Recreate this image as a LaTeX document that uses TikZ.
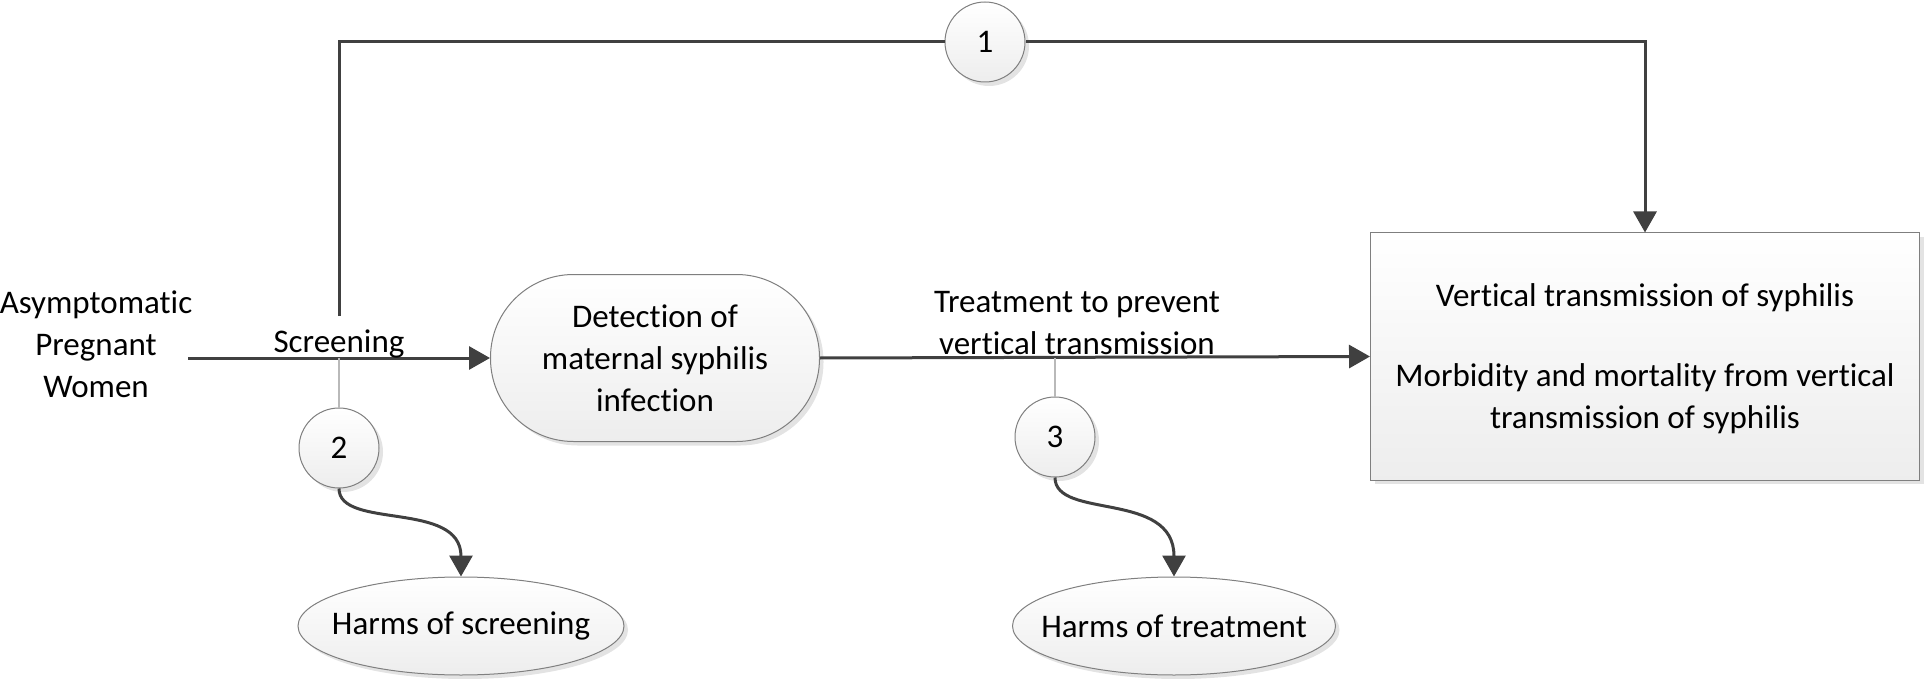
\documentclass[tikz,border=0pt]{standalone}
\usepackage{fontspec}
\setmainfont{Carlito}[Ligatures={NoCommon,NoContextual},RawFeature={-liga;-clig;-calt;-dlig}]
\usetikzlibrary{arrows.meta,shapes.geometric,shadows}
\definecolor{lineclr}{HTML}{404040}
\definecolor{bordclr}{HTML}{7F7F7F}
\begin{document}
\begin{tikzpicture}[x=1pt,y=-1pt,
  every node/.style={font=\fontsize{33}{42}\selectfont, text=black},
  conn/.style={draw=lineclr, line width=3pt, -{Triangle[length=21pt,width=23pt]}},
  plainconn/.style={draw=lineclr, line width=3pt},
  thin/.style={draw=gray!55, line width=1.3pt},
  shadedbox/.style={draw=bordclr, line width=1pt, top color=white, bottom color=gray!14,
     drop shadow={opacity=0.22, shadow xshift=4pt, shadow yshift=-4pt}},
  numcirc/.style={shadedbox, circle, minimum size=80pt, inner sep=0pt},
  harm/.style={shadedbox, ellipse, minimum height=98pt, inner sep=0pt},
  lbl/.style={align=center, inner sep=0pt}
]
\useasboundingbox (0,0) rectangle (1925,679);

% nodes
\node[lbl] (women) at (96,344) {Asymptomatic\\Pregnant\\Women};
\node[shadedbox, rectangle, rounded corners=83pt, minimum width=329pt, minimum height=167pt,
      align=center, inner sep=0pt] (det) at (655,358) {Detection of\\maternal syphilis\\infection};
\node[shadedbox, rectangle, minimum width=549pt, minimum height=247pt, inner sep=0pt] (out) at (1645,356.5) {};
\node[lbl] (o1) at (1645,298) {Vertical transmission of syphilis};
\node[lbl] (o2) at (1645,398.5) {Morbidity and mortality from vertical\\transmission of syphilis};

\node[numcirc] (c1) at (985,42) {1};
\node[numcirc] (c2) at (339,448) {2};
\node[numcirc] (c3) at (1055,437) {3};

\node[harm, minimum width=326pt] (h1) at (461,626) {\makebox[0pt]{Harms of screening}};
\node[harm, minimum width=323pt] (h2) at (1174,626) {\makebox[0pt]{Harms of treatment}};

\node[lbl] (trt) at (1077,323) {Treatment to prevent\\vertical transmission};

% coordinates
\coordinate (start) at (188,358);
\coordinate (scrtop) at (339,316);
\coordinate (scrbranch) at (339,358);
\coordinate (trtbranch) at (1055,358);

% connectors
\draw[plainconn] (scrtop) |- (c1.west);
\draw[conn] (c1.east) -| (out.north);
\draw[conn] (start) -- (det.west);
\draw[conn] (det.east) -- (out.west);
\draw[thin] (scrbranch) -- (c2.north);
\draw[thin] (trtbranch) -- (c3.north);
\draw[conn] (c2.south) .. controls (339,530) and (461,500) .. (h1.north);
\draw[conn] (c3.south) .. controls (1055,520) and (1174,490) .. (h2.north);

% label drawn above the line
\node[lbl] (scr) at (339,344) {Screening};
\end{tikzpicture}
\end{document}
